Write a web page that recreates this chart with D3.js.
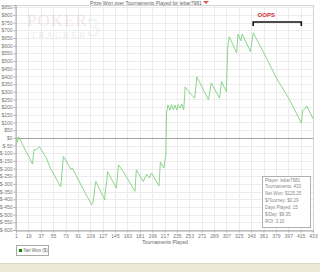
<!DOCTYPE html>
<html>
<head>
<meta charset="utf-8">
<script src="https://d3js.org/d3.v7.min.js"></script>
<style>
  body { margin: 0; background: #fff; }
  svg { display: block; font-family: "Liberation Sans", Arial, sans-serif; }
</style>
</head>
<body>
<script>
// tournaments played (x) and cumulative net won in $ (y)
var tourney = [1, 3, 5, 25, 27, 30, 35, 45, 51, 58, 66, 70, 79, 81, 83, 97, 111, 113, 117, 130, 131, 133, 134,
               147, 150, 157, 174, 176, 186, 191, 195, 198, 209, 211, 216, 219, 220, 222, 225, 227, 230, 232,
               235, 237, 240, 242, 245, 247, 256, 261, 264, 281, 285, 297, 300, 307, 309, 311, 322, 324, 328,
               330, 342, 346, 363, 380, 399, 416, 418, 421, 424, 433];
var netWon  = [0, -28, 6, -171, -78, -78, -58, -130, -197, -255, -320, -120, -190, -205, -197, -320, -435, -418, -283, -403, -340, -284, -219,
               -327, -176, -219, -349, -208, -284, -236, -262, -229, -312, -158, -197, -110, 162, 214, 182, 216, 182, 214,
               182, 216, 193, 221, 182, 332, 280, 258, 398, 247, 358, 258, 366, 301, 593, 658, 554, 676, 632,
               676, 561, 684, 540, 388, 247, 96, 179, 187, 208, 125.25];

var xTicks = d3.range(1, 434, 18);
var yTicks = d3.range(-600, 851, 50);

var infoLines = ["Player: lebar7981", "Tournaments: 433", "Net Won: $125.25", "$/Tourney: $0.29",
                 "Days Played: 15", "$/Day: $8.35", "ROI: 3.10"];

var W = 320, H = 272;
var svg = d3.select("body").append("svg").attr("width", W).attr("height", H);

var x = d3.scaleLinear().domain([1, 433]).range([16, 313]);
var y = d3.scaleLinear().domain([-600, 865]).range([230, 5]);

// grid
svg.append("g").selectAll("line").data(yTicks).enter().append("line")
    .attr("x1", x(1)).attr("x2", x(433))
    .attr("y1", function(d) { return Math.round(y(d)) + 0.5; })
    .attr("y2", function(d) { return Math.round(y(d)) + 0.5; })
    .attr("stroke", "#ececec");
svg.append("g").selectAll("line").data(xTicks).enter().append("line")
    .attr("y1", y(865)).attr("y2", y(-600))
    .attr("x1", function(d) { return Math.round(x(d)) + 0.5; })
    .attr("x2", function(d) { return Math.round(x(d)) + 0.5; })
    .attr("stroke", "#ececec");

// plot border
svg.append("rect")
    .attr("x", x(1) + 0.5).attr("y", y(865) + 0.5)
    .attr("width", x(433) - x(1)).attr("height", y(-600) - y(865))
    .attr("fill", "none").attr("stroke", "#d4d4d4");

// watermark
var wm = svg.append("g").attr("opacity", 0.4);
wm.append("text").attr("x", 27).attr("y", 26)
    .style("font-family", "Liberation Serif, serif").style("font-size", "17px")
    .attr("fill", "#e2c4c4").attr("letter-spacing", 1).text("POKER");
wm.append("text").attr("x", 31).attr("y", 38)
    .style("font-family", "Liberation Serif, serif").style("font-size", "9px")
    .attr("fill", "#d0d0d0").attr("letter-spacing", 2).text("TRACKER");
wm.append("text").attr("x", 87).attr("y", 36)
    .style("font-family", "Liberation Serif, serif").style("font-size", "26px")
    .attr("fill", "none").attr("stroke", "#cfdccf").attr("stroke-width", 0.7).text("3");

// zero line
svg.append("line")
    .attr("x1", x(1)).attr("x2", x(433))
    .attr("y1", Math.round(y(0)) + 0.5).attr("y2", Math.round(y(0)) + 0.5)
    .attr("stroke", "#a0a0a0");

// axes
var yAxis = d3.axisLeft(y).tickValues(yTicks).tickSize(2).tickPadding(1)
    .tickFormat(function(d) { return "$" + d; });
var gy = svg.append("g").attr("transform", "translate(" + (x(1) - 0.5) + ",0)").call(yAxis);
var xAxis = d3.axisBottom(x).tickValues(xTicks).tickSize(2).tickPadding(2);
var gx = svg.append("g").attr("transform", "translate(0," + (y(-600) + 0.5) + ")").call(xAxis);
[gx, gy].forEach(function(g) {
    g.select(".domain").attr("stroke", "#aaa");
    g.selectAll(".tick line").attr("stroke", "#aaa");
    g.selectAll("text").style("font-size", "5px").style("font-family", "Liberation Sans, sans-serif").attr("fill", "#777");
});

svg.append("text").attr("x", 165).attr("y", 244).attr("text-anchor", "middle")
    .style("font-size", "5px").attr("fill", "#666").text("Tournaments Played");

// net won line
var line = d3.line()
    .x(function(d, i) { return x(tourney[i]); })
    .y(function(d) { return y(d); });
svg.append("path").datum(netWon)
    .attr("d", line)
    .attr("fill", "none")
    .attr("stroke", "#7fd07f")
    .attr("stroke-width", 0.9);

// title
svg.append("text").attr("x", 146).attr("y", 4.6).attr("text-anchor", "middle")
    .style("font-size", "5px").attr("fill", "#666")
    .text("Prize Won over Tournaments Played for lebar7981");
svg.append("path").attr("d", "M203,1 L209,1 L206,4 Z").attr("fill", "#d55");

// OOPS annotation
var b0 = x(346), b1 = x(416), by = 22;
svg.append("path")
    .attr("d", "M" + b0 + "," + (by + 4) + " L" + b0 + "," + by + " L" + b1 + "," + by + " L" + b1 + "," + (by + 4))
    .attr("fill", "none").attr("stroke", "#111").attr("stroke-width", 1.6);
svg.append("text").attr("x", (b0 + b1) / 2 - 11).attr("y", 17).attr("text-anchor", "middle")
    .style("font-size", "6px").style("font-weight", "bold").attr("fill", "#d42a2a").text("OOPS");

// info box
svg.append("rect").attr("x", 262.5).attr("y", 176.5).attr("width", 48).attr("height", 51)
    .attr("fill", "#fff").attr("stroke", "#b0b0b0");
svg.append("g").selectAll("text").data(infoLines).enter().append("text")
    .attr("x", 265)
    .attr("y", function(d, i) { return 181.5 + i * 6.9; })
    .style("font-size", "4.5px").attr("fill", "#888")
    .text(function(d) { return d; });

// legend
var lg = svg.append("g");
lg.append("rect").attr("x", 16.5).attr("y", 245.5).attr("width", 32).attr("height", 10)
    .attr("fill", "#fff").attr("stroke", "#aaa");
lg.append("rect").attr("x", 19).attr("y", 249).attr("width", 3).attr("height", 3).attr("fill", "#0a8a0a");
lg.append("text").attr("x", 23.5).attr("y", 252.3).style("font-size", "4.5px").attr("fill", "#666").text("Net Won ($)");

// bottom panel band
svg.append("rect").attr("x", 0).attr("y", 264).attr("width", W).attr("height", 8).attr("fill", "#ece9d8");
svg.append("line").attr("x1", 0).attr("x2", W).attr("y1", 263.5).attr("y2", 263.5).attr("stroke", "#dcd8c8");
</script>
</body>
</html>
